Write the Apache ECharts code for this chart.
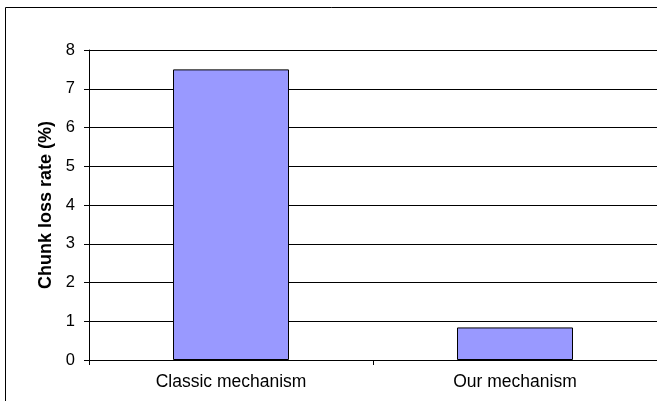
<!DOCTYPE html>
<html><head><meta charset="utf-8">
<script src="https://cdn.jsdelivr.net/npm/echarts@6/dist/echarts.min.js"></script>
<style>html,body{margin:0;padding:0;background:#fff}#c{width:657px;height:401px}</style>
</head><body><div id="c"></div>
<script>
var categories = ["Classic mechanism", "Our mechanism"];
var lossRate = [7.5, 0.84];
var yTicks = [0, 1, 2, 3, 4, 5, 6, 7, 8];
var yName = "Chunk loss rate (%)";

var FONT = 'Liberation Sans, Arial, sans-serif';
var chart = echarts.init(document.getElementById('c'), null, {renderer: 'canvas'});
chart.setOption({
  animation: false,
  backgroundColor: '#fff',
  graphic: [{
    type: 'rect', z: -1,
    shape: {x: 5.5, y: 7.5, width: 700, height: 500},
    style: {fill: 'none', stroke: '#000', lineWidth: 1}
  }],
  grid: {left: 89, top: 50, width: 570, height: 310, containLabel: false},
  xAxis: {
    type: 'category', data: categories,
    axisLine: {show: true, lineStyle: {color: '#000', width: 1}},
    axisTick: {show: true, alignWithLabel: false, length: 5, lineStyle: {color: '#000'}},
    axisLabel: {color: '#000', fontFamily: FONT, fontSize: 17.5, margin: 13}
  },
  yAxis: {
    type: 'value', min: yTicks[0], max: yTicks[yTicks.length - 1], interval: 1,
    name: yName, nameLocation: 'middle', nameGap: 27,
    nameTextStyle: {color: '#000', fontWeight: 'bold', fontFamily: FONT, fontSize: 18},
    axisLine: {show: true, lineStyle: {color: '#000', width: 1}},
    axisTick: {show: true, length: 5, lineStyle: {color: '#000'}},
    axisLabel: {color: '#000', fontFamily: FONT, fontSize: 16.5, margin: 14},
    splitLine: {show: true, lineStyle: {color: '#000', width: 1}}
  },
  series: [{
    type: 'bar', data: lossRate, barWidth: 116,
    itemStyle: {color: '#9999FF', borderColor: '#000', borderWidth: 1}
  }]
});
</script></body></html>
